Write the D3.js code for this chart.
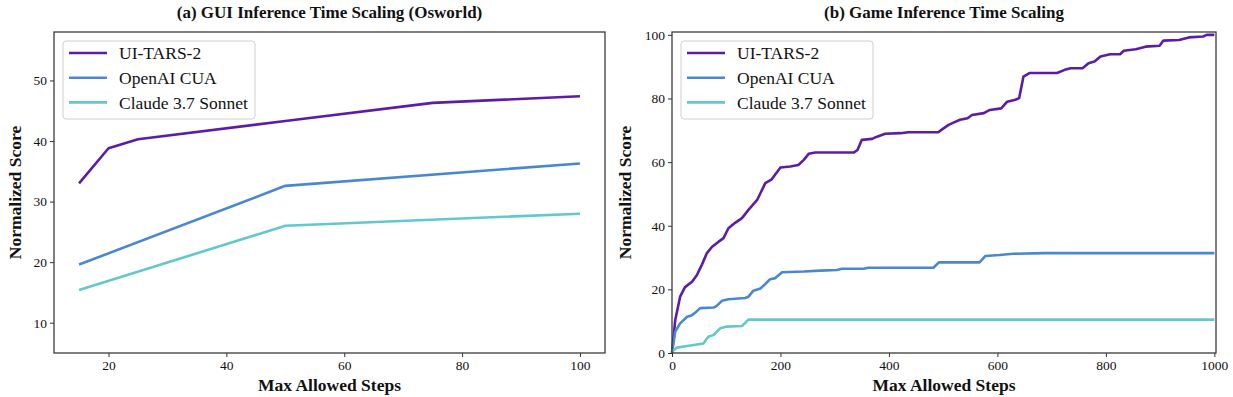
<!DOCTYPE html>
<html lang="en">
  <head>
    <meta charset="utf-8" />
    <title>Inference Time Scaling</title>
    <script src="https://d3js.org/d3.v7.min.js"></script>
    <style>
      body { margin: 0; background: #fff; }
      text { font-family: "Liberation Serif", "Times New Roman", serif; fill: #111; }
    </style>
  </head>
  <body>
    <script>

    // series names and colours
    var seriesNames = ["UI-TARS-2", "OpenAI CUA", "Claude 3.7 Sonnet"];
    var seriesColors = ["#5b1ca8", "#4a87d2", "#62c8cb"];

    // (a) GUI panel
    var guiSteps = [15, 20, 25, 50, 75, 100];
    var guiTars = [33.0, 38.8, 40.3, 43.3, 46.3, 47.4];
    var guiCuaSteps = [15, 50, 100];
    var guiCua = [19.6, 32.6, 36.3];
    var guiClaudeSteps = [15, 50, 100];
    var guiClaude = [15.4, 26.0, 28.0];
    var guiXTicks = [20, 40, 60, 80, 100];
    var guiYTicks = [10, 20, 30, 40, 50];

    // (b) Game panel
    var gameTarsSteps = [0, 6, 15, 24, 37, 46, 55, 64, 74, 86, 95, 104, 117, 129, 141, 157, 163, 172, 184, 190, 200,
      218, 233, 243, 252, 264, 335, 342, 350, 369, 378, 393, 421, 436, 491, 498, 510, 519, 531, 545, 553, 575, 586,
      607, 618, 633, 640, 648, 659, 710, 724, 735, 757, 768, 779, 790, 808, 826, 833, 855, 873, 899, 906, 935, 953,
      979, 986, 1000];
    var gameTars = [0, 10.4, 17.7, 20.7, 22.4, 24.5, 27.7, 31.3, 33.4, 35.0, 36.1, 39.2, 41.0, 42.4, 45.0, 48.1, 50.2,
      53.4, 54.6, 56.0, 58.3, 58.6, 59.1, 60.7, 62.6, 63.0, 63.0, 63.8, 67.0, 67.3, 68.0, 68.9, 69.1, 69.4, 69.4, 70.3,
      71.7, 72.4, 73.3, 73.8, 74.8, 75.4, 76.4, 76.9, 79.0, 79.6, 80.1, 86.9, 88.0, 88.0, 89.0, 89.5, 89.5, 91.1, 91.6,
      93.2, 93.9, 93.9, 95.0, 95.5, 96.3, 96.6, 98.2, 98.4, 99.2, 99.5, 100, 100];
    var gameCuaSteps = [0, 6, 15, 28, 37, 43, 52, 77, 83, 92, 104, 135, 141, 150, 163, 172, 181, 190, 203, 243, 273,
      304, 313, 353, 362, 482, 492, 567, 578, 604, 629, 688, 1000];
    var gameCua = [0, 6.7, 9.3, 11.4, 11.9, 12.7, 14.1, 14.3, 14.9, 16.4, 16.9, 17.3, 17.7, 19.6, 20.3, 21.7, 23.2,
      23.5, 25.4, 25.6, 25.9, 26.1, 26.5, 26.5, 26.8, 26.8, 28.5, 28.5, 30.5, 30.8, 31.2, 31.4, 31.4];
    var gameClaudeSteps = [0, 9, 28, 58, 67, 77, 89, 101, 129, 141, 1000];
    var gameClaude = [0.4, 1.7, 2.2, 3.0, 5.1, 5.7, 7.8, 8.3, 8.5, 10.5, 10.5];
    var gameXTicks = [0, 200, 400, 600, 800, 1000];
    var gameYTicks = [0, 20, 40, 60, 80, 100];

    var W = 1233, H = 397;
    var svg = d3.select("body").append("svg")
      .attr("width", W)
      .attr("height", H);

    function zip(xs, ys) {
      return xs.map((x, i) => ({x: x, y: ys[i]}));
    }

    function drawPanel(p) {
      var x = d3.scaleLinear().domain(p.xDomain).range([p.left, p.right]);
      var y = d3.scaleLinear().domain(p.yDomain).range([p.bottom, p.top]);
      var g = svg.append("g");

      // axes
      var xAxis = g.append("g")
        .attr("transform", `translate(0,${p.bottom})`)
        .call(d3.axisBottom(x).tickValues(p.xTicks).tickSize(4).tickPadding(3).tickFormat(d3.format("d")));
      var yAxis = g.append("g")
        .attr("transform", `translate(${p.left},0)`)
        .call(d3.axisLeft(y).tickValues(p.yTicks).tickSize(4).tickPadding(3).tickFormat(d3.format("d")));
      [xAxis, yAxis].forEach(a => {
        a.select(".domain").remove();
        a.selectAll("line").attr("stroke", "#333").attr("stroke-width", 1);
        a.selectAll("text").style("font-size", "13.5px").style("font-family", "Liberation Serif").attr("fill", "#111");
      });

      // lines
      var line = d3.line().x(d => x(d.x)).y(d => y(d.y));
      p.series.forEach((s, i) => {
        g.append("path")
          .datum(s)
          .attr("fill", "none")
          .attr("stroke", seriesColors[i])
          .attr("stroke-width", 2.6)
          .attr("stroke-linejoin", "round")
          .attr("d", line);
      });

      // frame
      g.append("rect")
        .attr("x", p.left).attr("y", p.top)
        .attr("width", p.right - p.left).attr("height", p.bottom - p.top)
        .attr("fill", "none")
        .attr("stroke", "#333")
        .attr("stroke-width", 1.25);

      // title and labels
      g.append("text")
        .attr("x", (p.left + p.right) / 2)
        .attr("y", 18)
        .attr("text-anchor", "middle")
        .style("font-size", "17px")
        .style("font-weight", "bold")
        .text(p.title);
      g.append("text")
        .attr("x", (p.left + p.right) / 2)
        .attr("y", 391)
        .attr("text-anchor", "middle")
        .style("font-size", "17.5px")
        .style("font-weight", "bold")
        .text("Max Allowed Steps");
      g.append("text")
        .attr("transform", `translate(${p.ylabelX},${(p.top + p.bottom) / 2}) rotate(-90)`)
        .attr("text-anchor", "middle")
        .style("font-size", "17.5px")
        .style("font-weight", "bold")
        .text("Normalized Score");

      // legend
      var lg = g.append("g").attr("transform", `translate(${p.left + 9},${p.top + 9})`);
      lg.append("rect")
        .attr("width", p.legendW).attr("height", 78)
        .attr("rx", 3)
        .attr("fill", "#fff").attr("fill-opacity", 0.8)
        .attr("stroke", "#d0d0d0").attr("stroke-width", 1);
      seriesNames.forEach((name, i) => {
        var ry = 12 + i * 24.7;
        lg.append("line")
          .attr("x1", 6).attr("x2", 44)
          .attr("y1", ry).attr("y2", ry)
          .attr("stroke", seriesColors[i])
          .attr("stroke-width", 2.6);
        lg.append("text")
          .attr("x", 56).attr("y", ry)
          .attr("dy", "0.35em")
          .style("font-size", "17.5px")
          .text(name);
      });
    }

    drawPanel({
      title: "(a) GUI Inference Time Scaling (Osworld)",
      left: 54, right: 605, top: 32, bottom: 353,
      xDomain: [10.75, 104.25], yDomain: [5, 58],
      xTicks: guiXTicks, yTicks: guiYTicks,
      ylabelX: 21, legendW: 192,
      series: [zip(guiSteps, guiTars), zip(guiCuaSteps, guiCua), zip(guiClaudeSteps, guiClaude)]
    });

    drawPanel({
      title: "(b) Game Inference Time Scaling",
      left: 672, right: 1216, top: 32, bottom: 353,
      xDomain: [0, 1003], yDomain: [0, 100.9],
      xTicks: gameXTicks, yTicks: gameYTicks,
      ylabelX: 631, legendW: 192,
      series: [zip(gameTarsSteps, gameTars), zip(gameCuaSteps, gameCua), zip(gameClaudeSteps, gameClaude)]
    });

    </script>
  </body>
</html>
